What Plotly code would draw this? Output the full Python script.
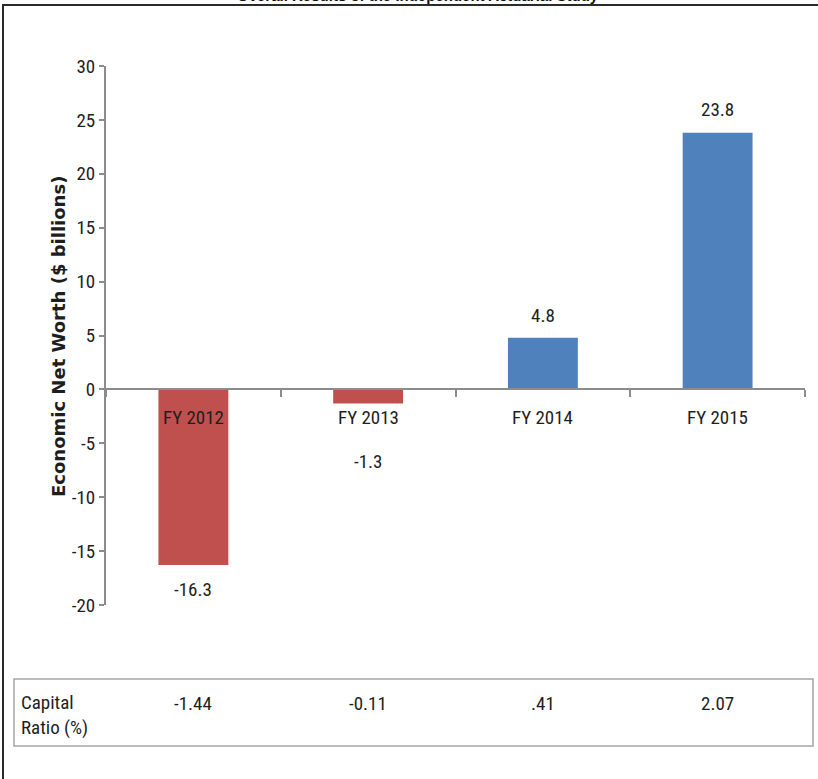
import plotly.graph_objects as go

# ---- data ----
categories = ["FY 2012", "FY 2013", "FY 2014", "FY 2015"]
net_worth = [-16.3, -1.3, 4.8, 23.8]
value_labels = ["-16.3", "-1.3", "4.8", "23.8"]
capital_ratio_labels = ["-1.44", "-0.11", ".41", "2.07"]
y_ticks = [-20, -15, -10, -5, 0, 5, 10, 15, 20, 25, 30]
y_tick_labels = ["-20", "-15", "-10", "-5", "0", "5", "10", "15", "20", "25", "30"]
title_text = "Overall Results of the Independent Actuarial Study"
y_title = "Economic Net Worth ($ billions)"
table_row_label = "Capital<br>Ratio (%)"

# ---- layout helpers (pixel -> paper) ----
W, H = 818, 779
L, R, T, B = 106, 805, 66, 605


def px(x):
    return (x - L) / (R - L)


def py(y):
    return (B - y) / (B - T)


RED = "#C0504D"
BLUE = "#4F81BD"
NARROW = "Roboto Condensed, Liberation Sans Narrow, Roboto, sans-serif"
AXIS = "#8C8C8C"
TEXT = "#1E1E1E"

colors = [RED if v < 0 else BLUE for v in net_worth]
label_offsets = [-24, -58, 22, 23]

fig = go.Figure()
fig.add_trace(go.Bar(x=categories, y=net_worth, marker_color=colors,
                     marker_line_width=0, width=0.4, hoverinfo="skip"))

ymin, ymax = y_ticks[0], y_ticks[-1]
fig.update_layout(
    width=W, height=H,
    margin=dict(l=L, r=W - R, t=T, b=H - B),
    paper_bgcolor="white", plot_bgcolor="white",
    showlegend=False,
    xaxis=dict(type="category", range=[-0.5, len(categories) - 0.5],
               anchor="free", position=(0 - ymin) / (ymax - ymin),
               showline=True, linecolor=AXIS, linewidth=2,
               ticks="outside", tickson="boundaries", ticklen=7,
               tickcolor=AXIS, tickwidth=1.5,
               showticklabels=False, showgrid=False, zeroline=False),
    yaxis=dict(range=[ymin, ymax], tickvals=y_ticks, ticktext=y_tick_labels,
               domain=[0, 1],
               ticks="outside", ticklen=5, tickcolor=AXIS, tickwidth=1.5,
               showline=True, linecolor=AXIS, linewidth=2,
               showgrid=False, zeroline=False,
               tickfont=dict(family=NARROW, size=19, color=TEXT)),
)

annotations = []
# category labels at zero line
for c in categories:
    annotations.append(dict(x=c, y=0, xref="x", yref="y", yshift=-28,
                            text=c, showarrow=False,
                            font=dict(family=NARROW, size=19, color=TEXT)))
# value labels
for c, v, t, off in zip(categories, net_worth, value_labels, label_offsets):
    annotations.append(dict(x=c, y=v, xref="x", yref="y", yshift=off,
                            text=t, showarrow=False,
                            font=dict(family=NARROW, size=19, color=TEXT)))
# y-axis title
annotations.append(dict(x=px(58), y=py(337), xref="paper", yref="paper",
                        xanchor="center", yanchor="middle",
                        text="<b>" + y_title + "</b>", textangle=-90,
                        showarrow=False,
                        font=dict(family="DejaVu Sans", size=18, color=TEXT)))
# table
annotations.append(dict(x=px(19), y=py(715), xref="paper", yref="paper",
                        xanchor="left", yanchor="middle", align="left",
                        text=table_row_label, showarrow=False,
                        font=dict(family=NARROW, size=19, color=TEXT)))
for c, t in zip(categories, capital_ratio_labels):
    annotations.append(dict(x=c, y=py(703), xref="x", yref="paper",
                            yanchor="middle",
                            text=t, showarrow=False,
                            font=dict(family=NARROW, size=19, color=TEXT)))
# title (cut off at top of page, as in the source)
annotations.append(dict(x=px(418), y=py(6), xref="paper", yref="paper",
                        xanchor="center", yanchor="bottom",
                        text="<b>" + title_text + "</b>",
                        showarrow=False,
                        font=dict(family="Liberation Sans, Arial, sans-serif",
                                  size=15, color="#111111")))
fig.update_layout(annotations=annotations)

shapes = [
    dict(type="rect", xref="paper", yref="paper",
         x0=px(14), x1=px(813), y0=py(679), y1=py(746),
         line=dict(color="#A5A5A5", width=1.5), fillcolor="rgba(0,0,0,0)"),
    dict(type="rect", xref="paper", yref="paper",
         x0=px(3), x1=px(840), y0=py(5), y1=py(800),
         line=dict(color="#2A2A2A", width=2), fillcolor="rgba(0,0,0,0)"),
]
fig.update_layout(shapes=shapes)

fig.write_html("out.html",
               config={"displayModeBar": False},
               post_script="document.body.style.margin='0';"
                           "document.body.style.padding='0';")
